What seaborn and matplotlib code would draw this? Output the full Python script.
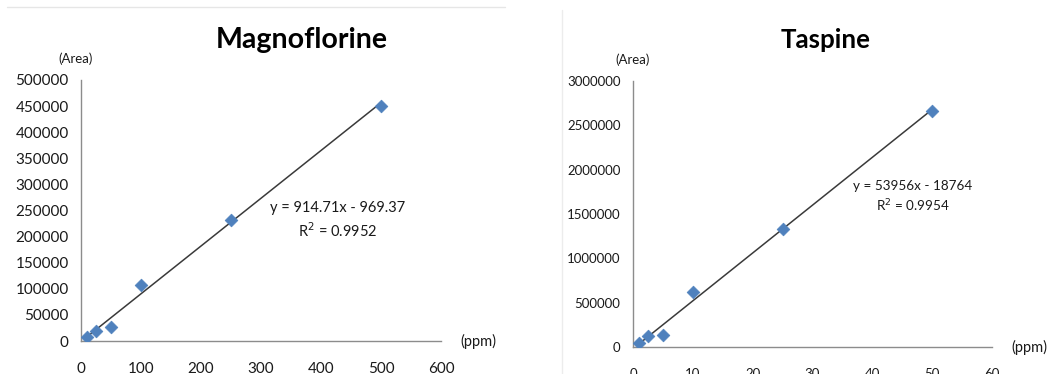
import numpy as np
import pandas as pd
import matplotlib
matplotlib.use("Agg")
import matplotlib.pyplot as plt
from matplotlib.lines import Line2D
import seaborn as sns

# ---- data ----
mag_conc = [10, 25, 50, 100, 250, 500]
mag_area = [7000, 20000, 27000, 108000, 232000, 450000]
mag_slope, mag_intercept = 914.71, -969.37
mag_eq = ["y = 914.71x - 969.37", "R$^{2}$ = 0.9952"]
mag_xticks = [0, 100, 200, 300, 400, 500, 600]
mag_yticks = [0, 50000, 100000, 150000, 200000, 250000, 300000, 350000, 400000, 450000, 500000]

tas_conc = [1, 2.5, 5, 10, 25, 50]
tas_area = [45000, 120000, 135000, 620000, 1330000, 2660000]
tas_slope, tas_intercept = 53956, -18764
tas_eq = ["y = 53956x - 18764", "R$^{2}$ = 0.9954"]
tas_xticks = [0, 10, 20, 30, 40, 50, 60]
tas_yticks = [0, 500000, 1000000, 1500000, 2000000, 2500000, 3000000]

titles = ["Magnoflorine", "Taspine"]

sns.set_style("white")
plt.rcParams['font.family'] = ['Lato', 'DejaVu Sans']

fig = plt.figure(figsize=(10.47, 3.74), dpi=100)
ax1 = fig.add_axes([0.0774, 0.0882, 0.3438, 0.698])
ax2 = fig.add_axes([0.6046, 0.0722, 0.3429, 0.7112])

spine_col = "#8c8c8c"
text_col = "#1a1a1a"
pt_col = "#4F81BD"

def draw(ax, conc, area, slope, intercept, eq, xticks, yticks, title,
         eq_pos, title_xy, tick_fs, eq_fs, title_fs, area_dx):
    df = pd.DataFrame({"conc": conc, "area": area})
    fit = pd.DataFrame({"conc": [min(conc), max(conc)]})
    fit["area"] = slope * fit["conc"] + intercept
    sns.lineplot(data=fit, x="conc", y="area", ax=ax, color="#3a3a3a", lw=1.1)
    sns.scatterplot(data=df, x="conc", y="area", ax=ax, marker="D", s=42,
                    color=pt_col, edgecolor=pt_col, linewidth=0.5, zorder=3)
    ax.set_xlim(xticks[0], xticks[-1])
    ax.set_ylim(yticks[0], yticks[-1])
    ax.set_xticks(xticks)
    ax.set_yticks(yticks)
    ax.set_xticklabels([str(t) for t in xticks])
    ax.set_yticklabels([str(t) for t in yticks])
    ax.set_xlabel("")
    ax.set_ylabel("")
    for s in ["top", "right"]:
        ax.spines[s].set_visible(False)
    for s in ["left", "bottom"]:
        ax.spines[s].set_color(spine_col)
        ax.spines[s].set_linewidth(1.0)
    ax.tick_params(axis="both", which="major", direction="out", length=5,
                   width=1.0, color=spine_col, labelsize=tick_fs, labelcolor=text_col)
    ax.tick_params(axis="y", pad=4)
    ax.tick_params(axis="x", pad=10)
    ax.text(eq_pos[0], eq_pos[1], eq[0] + "\n" + eq[1], ha="center", va="center",
            fontsize=eq_fs, color=text_col, linespacing=1.35)
    fig.text(title_xy[0], title_xy[1], title, ha="center", va="center",
             fontsize=title_fs, fontweight="bold", color="#000000")
    ax.annotate("(Area)", xy=(0, 1), xycoords="axes fraction",
                xytext=(area_dx, 21), textcoords="offset pixels",
                ha="center", va="center", fontsize=9.5, color=text_col)
    ax.annotate("(ppm)", xy=(1, 0), xycoords="axes fraction",
                xytext=(19, 0), textcoords="offset pixels",
                ha="left", va="center", fontsize=10.5, color=text_col)

draw(ax1, mag_conc, mag_area, mag_slope, mag_intercept, mag_eq,
     mag_xticks, mag_yticks, titles[0], (428, 231000),
     (302 / 1047, 1 - 40 / 374), 11, 10.5, 20.5, -5)
draw(ax2, tas_conc, tas_area, tas_slope, tas_intercept, tas_eq,
     tas_xticks, tas_yticks, titles[1], (46.8, 1690000),
     (826 / 1047, 1 - 40 / 374), 9.5, 9.7, 18.6, 0)

# faint chart-area frame remnants
fig.add_artist(Line2D([7 / 1047, 505 / 1047], [1 - 7 / 374, 1 - 7 / 374],
                      transform=fig.transFigure, color="#e6e6e6", lw=1))
fig.add_artist(Line2D([562 / 1047, 562 / 1047], [0, 1 - 10 / 374],
                      transform=fig.transFigure, color="#ececec", lw=1))

fig.savefig("out.png", dpi=100)
